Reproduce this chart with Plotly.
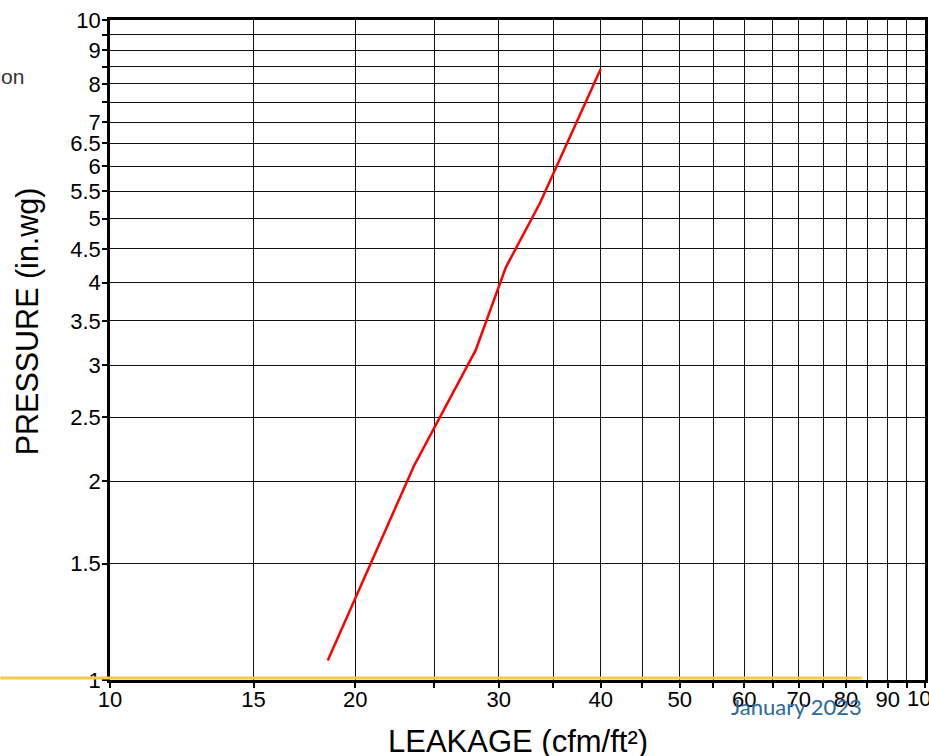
import plotly.graph_objects as go

# Data
leakage = [18.5, 23.6, 28.1, 30.6, 33.7, 40.0]
pressure = [1.07, 2.11, 3.16, 4.22, 5.28, 8.43]

x_tick_vals = [10, 15, 20, 25, 30, 35, 40, 45, 50, 55, 60, 65, 70, 75, 80, 85, 90, 95, 100]
x_tick_text = ["10", "15", "20", "", "30", "", "40", "", "50", "", "60", "", "70", "", "80", "", "90", "", "100"]
y_tick_vals = [1, 1.5, 2, 2.5, 3, 3.5, 4, 4.5, 5, 5.5, 6, 6.5, 7, 7.5, 8, 8.5, 9, 9.5, 10]
y_tick_text = ["1", "1.5", "2", "2.5", "3", "3.5", "4", "4.5", "5", "5.5", "6", "6.5", "7", "", "8", "", "9", "", "10"]

x_title = "LEAKAGE (cfm/ft²)"
y_title = "PRESSURE (in.wg)"
date_text = "January 2023"
side_text = "on"

FONT = "Liberation Sans, Arial, sans-serif"
W, H = 929, 756
L, R, T, B = 110, 1, 20, 76
PW = W - L - R
PH = H - T - B


def px(xp):
    return (xp - L) / PW


def py(yp):
    return (T + PH - yp) / PH


fig = go.Figure()
fig.add_trace(go.Scatter(
    x=leakage, y=pressure, mode="lines",
    line=dict(color="#ff0000", width=2.5),
    showlegend=False, hoverinfo="skip",
))

axis_common = dict(
    type="log",
    showgrid=True, gridcolor="#111111", gridwidth=1,
    showline=True, linecolor="black", linewidth=2.5, mirror=True,
    ticks="outside", ticklen=5, tickcolor="black", tickwidth=1.5,
    tickfont=dict(family=FONT, size=22, color="black"),
    zeroline=False,
)

fig.update_layout(
    width=W, height=H,
    margin=dict(l=L, r=R, t=T, b=B, pad=0),
    paper_bgcolor="white", plot_bgcolor="white",
    xaxis=dict(range=[1, 2], tickmode="array", tickvals=x_tick_vals,
               ticktext=x_tick_text, ticklabelstandoff=-7, **axis_common),
    yaxis=dict(range=[0, 1], tickmode="array", tickvals=y_tick_vals,
               ticktext=y_tick_text, ticklabelstandoff=-3, **axis_common),
    shapes=[dict(type="line", xref="paper", yref="paper",
                 x0=px(0), x1=px(865), y0=py(678), y1=py(678),
                 line=dict(color="#f7c948", width=3), layer="above")],
    annotations=[
        dict(text=y_title, xref="paper", yref="paper", x=px(27), y=py(321),
             xanchor="center", yanchor="middle", textangle=-90, showarrow=False,
             font=dict(family=FONT, size=30.5, color="black")),
        dict(text=x_title, xref="paper", yref="paper", x=px(520), y=py(741),
             xanchor="center", yanchor="middle", showarrow=False,
             font=dict(family=FONT, size=31, color="black")),
        dict(text=x_tick_text[-1], xref="x", yref="paper", x=2, y=py(698),
             xanchor="center", yanchor="middle", showarrow=False,
             font=dict(family=FONT, size=22, color="black")),
        dict(text=date_text, xref="paper", yref="paper", x=px(799), y=py(706),
             xanchor="center", yanchor="middle", showarrow=False,
             font=dict(family="Lato, sans-serif", size=22, color="#2a6a9e")),
        dict(text=side_text, xref="paper", yref="paper", x=px(26), y=py(76),
             xanchor="right", yanchor="middle", showarrow=False,
             font=dict(family=FONT, size=21, color="#333333")),
    ],
)

fig.write_html("out.html", config={"displayModeBar": False},
               post_script="document.body.style.margin='0';")
